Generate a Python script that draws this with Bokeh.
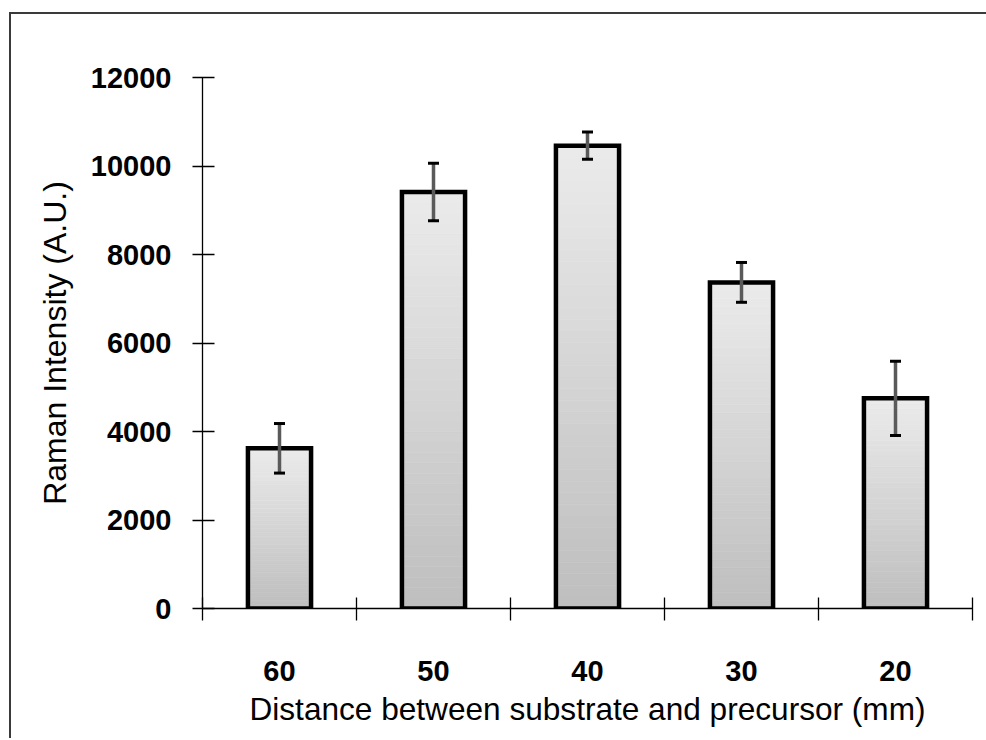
import numpy as np
from bokeh.plotting import figure
from bokeh.models import Range1d, FixedTicker, Whisker, TeeHead, ColumnDataSource
from bokeh.embed import file_html
from bokeh.resources import INLINE

# ---- data ----
categories = ["60", "50", "40", "30", "20"]
intensity = [3620, 9410, 10460, 7370, 4750]
error = [560, 650, 310, 450, 840]
y_ticks = [0, 2000, 4000, 6000, 8000, 10000, 12000]
x_title = "Distance between substrate and precursor (mm)"
y_title = "Raman Intensity (A.U.)"

FONT = "Liberation Sans"
SHIFT_X, SHIFT_Y = 12, 14
W, H = 986 - 11, 740 - 14 - 2

n = len(categories)
centers = [i + 0.5 for i in range(n)]
bounds = list(range(n + 1))
half = 0.205

p = figure(width=W, height=H, output_backend="svg", toolbar_location=None,
           x_range=Range1d(0, n), y_range=Range1d(0, 12000),
           min_border_left=203 - SHIFT_X, min_border_right=986 - 971 + 1,
           min_border_top=77 - SHIFT_Y, min_border_bottom=740 - 608)
p.outline_line_color = None
p.xgrid.visible = False
p.ygrid.visible = False
p.background_fill_color = "white"
p.border_fill_color = "white"
p.styles = {"border-left": "2px solid #3a3a3a", "border-top": "2px solid #3a3a3a",
            "border-right": "none", "border-bottom": "none",
            "box-sizing": "content-box", "overflow": "visible",
            "margin-left": "9px", "margin-top": "12px"}

# gradient-filled bars built from slices of each bar's value
N = 40
top_c = np.array([235, 235, 235])
bot_c = np.array([190, 190, 190])
L, R, B, T, C = [], [], [], [], []
for c, v in zip(centers, intensity):
    for k in range(N):
        frac = (k + 0.5) / N
        col = bot_c + (top_c - bot_c) * frac
        L.append(c - half); R.append(c + half)
        B.append(v * k / N); T.append(v * (k + 1) / N)
        C.append("#%02x%02x%02x" % tuple(int(round(x)) for x in col))
slices = ColumnDataSource(dict(left=L, right=R, bottom=B, top=T, color=C))
p.quad(left="left", right="right", bottom="bottom", top="top", source=slices,
       fill_color="color", line_color="color", line_width=0.6)

bars = ColumnDataSource(dict(x=centers, top=intensity,
                             upper=[v + e for v, e in zip(intensity, error)],
                             lower=[v - e for v, e in zip(intensity, error)]))
p.vbar(x="x", top="top", bottom=0, width=2 * half, source=bars,
       fill_color=None, line_color="black", line_width=4.5, line_join="miter")

wh = Whisker(base="x", upper="upper", lower="lower", source=bars,
             line_color="#5a5a5a", line_width=3.5, level="overlay",
             upper_head=TeeHead(size=11, line_width=3, line_color="black"),
             lower_head=TeeHead(size=11, line_width=3, line_color="black"))
p.add_layout(wh)

# y axis
ya = p.yaxis[0]
ya.ticker = FixedTicker(ticks=y_ticks, minor_ticks=[])
ya.major_tick_in = 12
ya.major_tick_out = 10
ya.major_tick_line_color = "black"
ya.major_tick_line_width = 1.3
ya.axis_line_color = "black"
ya.axis_line_width = 1.3
ya.major_label_text_font = FONT
ya.major_label_text_font_size = "29px"
ya.major_label_text_font_style = "bold"
ya.major_label_text_color = "black"
ya.major_label_standoff = 21
ya.axis_label = y_title
ya.axis_label_text_font = FONT
ya.axis_label_text_font_size = "32px"
ya.axis_label_text_font_style = "normal"
ya.axis_label_text_color = "black"
ya.axis_label_standoff = 15

# x axis: labels at bar centers, tick marks at category boundaries
xa = p.xaxis[0]
xa.ticker = FixedTicker(ticks=centers, minor_ticks=bounds)
xa.major_label_overrides = {c: lab for c, lab in zip(centers, categories)}
xa.major_tick_in = 0
xa.major_tick_out = 0
xa.minor_tick_in = 11
xa.minor_tick_out = 12
xa.minor_tick_line_color = "black"
xa.minor_tick_line_width = 1.3
xa.axis_line_color = "black"
xa.axis_line_width = 1.3
xa.major_label_text_font = FONT
xa.major_label_text_font_size = "29px"
xa.major_label_text_font_style = "bold"
xa.major_label_text_color = "black"
xa.major_label_standoff = 40
xa.axis_label = x_title
xa.axis_label_text_font = FONT
xa.axis_label_text_font_size = "31.6px"
xa.axis_label_text_font_style = "normal"
xa.axis_label_text_color = "black"
xa.axis_label_standoff = 7

open("out.html", "w").write(file_html(p, INLINE))
